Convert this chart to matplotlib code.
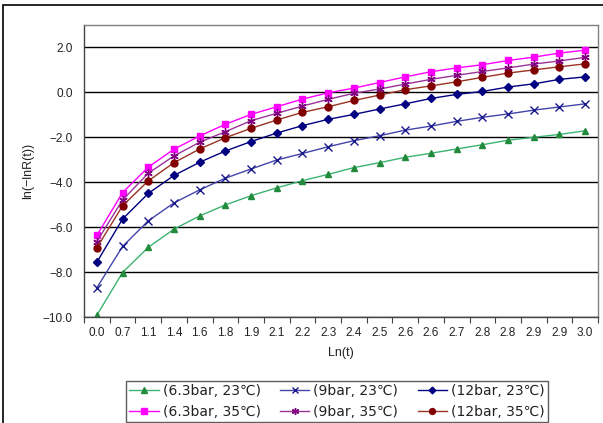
import matplotlib
matplotlib.use("Agg")
import matplotlib.pyplot as plt
from matplotlib.patches import Rectangle
import numpy as np

plt.rcParams['font.family'] = ['Liberation Sans', 'Noto Sans CJK KR', 'DejaVu Sans']

categories = ["0.0", "0.7", "1.1", "1.4", "1.6", "1.8", "1.9", "2.1", "2.2", "2.3",
              "2.4", "2.5", "2.6", "2.6", "2.7", "2.8", "2.8", "2.9", "2.9", "3.0"]

g63_23 = [-9.92, -8.02, -6.90, -6.09, -5.50, -5.01, -4.60, -4.25, -3.93, -3.65,
          -3.35, -3.13, -2.89, -2.71, -2.52, -2.33, -2.13, -2.00, -1.87, -1.71]
b9_23 = [-8.70, -6.86, -5.72, -4.92, -4.34, -3.82, -3.41, -3.01, -2.72, -2.42,
         -2.15, -1.93, -1.68, -1.50, -1.29, -1.11, -0.96, -0.79, -0.65, -0.51]
n12_23 = [-7.56, -5.64, -4.50, -3.70, -3.11, -2.61, -2.19, -1.81, -1.48, -1.20,
          -0.98, -0.74, -0.51, -0.27, -0.09, 0.04, 0.24, 0.38, 0.58, 0.69]
m63_35 = [-6.37, -4.46, -3.33, -2.53, -1.94, -1.42, -0.98, -0.64, -0.30, -0.02,
          0.19, 0.44, 0.69, 0.92, 1.09, 1.23, 1.42, 1.57, 1.75, 1.88]
p9_35 = [-6.64, -4.79, -3.60, -2.83, -2.22, -1.75, -1.26, -0.93, -0.61, -0.31,
         -0.04, 0.15, 0.37, 0.58, 0.76, 0.93, 1.09, 1.26, 1.40, 1.56]
r12_35 = [-6.92, -5.05, -3.94, -3.13, -2.52, -2.02, -1.60, -1.23, -0.89, -0.64,
          -0.36, -0.12, 0.12, 0.29, 0.47, 0.67, 0.86, 1.00, 1.14, 1.27]

labels = ["(6.3bar, 23℃)", "(9bar, 23℃)", "(12bar, 23℃)",
          "(6.3bar, 35℃)", "(9bar, 35℃)", "(12bar, 35℃)"]

fig = plt.figure(figsize=(6.03, 4.23), dpi=100)
ax = fig.add_axes([84/603, 1-317/423, (598-84)/603, (317-25)/423])

x = np.arange(len(categories))
styles = [
    (g63_23, dict(color="#3CB371", marker="^", mfc="#228B3B", mec="#228B3B", ms=4.8)),
    (b9_23, dict(color="#4444AA", marker="x", mfc="#1a1a8c", mec="#1a1a8c", ms=5.5, mew=1.0)),
    (n12_23, dict(color="#000080", marker="D", mfc="#000080", mec="#000080", ms=4.0)),
    (m63_35, dict(color="#FF00FF", marker="s", mfc="#FF00FF", mec="#FF00FF", ms=4.8)),
    (p9_35, dict(color="#993399", marker=(6, 2, 0), mfc="#800080", mec="#800080", ms=6, mew=1.0)),
    (r12_35, dict(color="#993322", marker="o", mfc="#800000", mec="#800000", ms=5.0)),
]
handles = []
for (vals, st), lab in zip(styles, labels):
    h, = ax.plot(x, vals, lw=1.0, label=lab, **st)
    handles.append(h)

ax.set_xlim(-0.5, len(categories) - 0.5)
ax.set_ylim(-10, 3)
ax.set_yticks(np.arange(-10, 3, 2))
ax.set_yticklabels([f"{v:.1f}".replace("-", "−") for v in np.arange(-10, 3, 2)], fontsize=8.5, color="#222222")
ax.tick_params(axis='y', length=0, pad=8)
ax.yaxis.grid(True, color="black", lw=1.0)
ax.set_axisbelow(True)

ax.set_xticks(np.arange(-0.5, len(categories), 1))
ax.set_xticklabels([])
ax.tick_params(axis='x', which='major', direction='out', length=4, color="#444444")
ax.set_xticks(x, minor=True)
ax.set_xticklabels(categories, minor=True, fontsize=8.5, color="#222222")
ax.tick_params(axis='x', which='minor', length=0, pad=7)

for s in ax.spines.values():
    s.set_color("#808080")
    s.set_linewidth(1.0)
ax.spines['bottom'].set_color("#444444")
ax.spines['left'].set_color("#444444")

ax.set_xlabel("Ln(t)", fontsize=9, color="#222222", labelpad=6)
ax.set_ylabel("ln(−lnR(t))", fontsize=9, color="#222222", labelpad=6)

order = [0, 3, 1, 4, 2, 5]
leg = fig.legend([handles[i] for i in order], [labels[i] for i in order],
                 ncol=3, loc="lower left", bbox_to_anchor=(126/603, 1/423, (548-126)/603, 41/423),
                 mode="expand", frameon=True, fancybox=False,
                 prop={'family': ['DejaVu Sans', 'Noto Sans CJK KR'], 'size': 10},
                 borderpad=0.25, labelspacing=0.45, handlelength=2.1, handletextpad=0.3,
                 columnspacing=0.6, borderaxespad=0, markerscale=0.85)
leg.get_frame().set_edgecolor("#333333")
leg.get_frame().set_linewidth(1.0)
for t in leg.get_texts():
    t.set_color("#222222")

fig.patches.append(Rectangle((3/603, -0.1), 1.2, 1 - 5/423 + 0.1, transform=fig.transFigure,
                             fill=False, edgecolor="black", lw=1.2, figure=fig))

fig.savefig("out.png", dpi=100)
